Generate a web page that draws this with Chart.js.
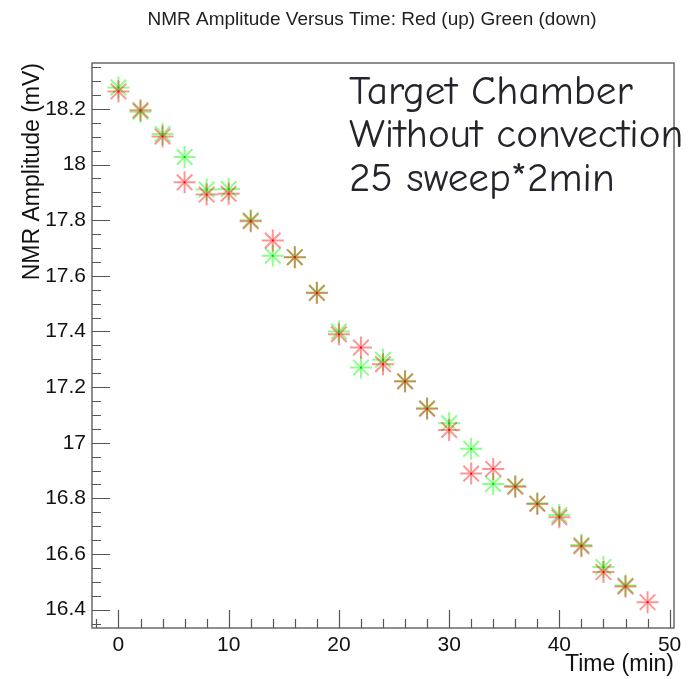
<!DOCTYPE html>
<html>
<head>
<meta charset="utf-8">
<script src="https://cdn.jsdelivr.net/npm/chart.js@4.4.1/dist/chart.umd.min.js"></script>
<style>
html,body{margin:0;padding:0;background:#ffffff;}
#wrap{position:relative;width:693px;height:679px;}
</style>
</head>
<body>
<div id="wrap"><canvas id="c" width="693" height="679"></canvas></div>
<script>
// ---- data ----
const timeRed = [0,2,4,6,8,10,12,14,16,18,20,22,24,26,28,30,32,34,36,38,40,42,44,46,48];
const ampRed = [18.263,18.195,18.101,17.936,17.892,17.895,17.796,17.727,17.667,17.538,17.390,17.342,17.282,17.220,17.122,17.046,16.889,16.906,16.842,16.780,16.732,16.628,16.535,16.483,16.427];
const timeGreen = [0,2,4,6,8,10,12,14,16,18,20,22,24,26,28,30,32,34,36,38,40,42,44,46];
const ampGreen = [18.277,18.190,18.110,18.027,17.910,17.912,17.800,17.672,17.667,17.540,17.400,17.270,17.298,17.222,17.124,17.070,16.978,16.852,16.844,16.782,16.740,16.632,16.553,16.487];
const xTicks = [0,10,20,30,40,50];
const xTickLabels = ['0','10','20','30','40','50'];
const yTicks = [16.4,16.6,16.8,17.0,17.2,17.4,17.6,17.8,18.0,18.2];
const yTickLabels = ['16.4','16.6','16.8','17','17.2','17.4','17.6','17.8','18','18.2'];
const titleText = 'NMR Amplitude Versus Time: Red (up) Green (down)';
const xTitle = 'Time (min)';
const yTitle = 'NMR Amplitude (mV)';
const noteLines = ['Target Chamber','Without convection','25 sweep*2min'];

const toPts = (xs, ys) => xs.map((x, i) => ({x: x, y: ys[i]}));

const FONT = '"Liberation Sans", Arial, Helvetica, sans-serif';

// frame + inner ticks (ROOT style), title, annotation
const rootStyle = {
  id: 'rootStyle',
  afterDraw(chart) {
    const {ctx, chartArea: a, scales: {x, y}} = chart;
    ctx.save();
    ctx.strokeStyle = '#6a6a6a';
    ctx.lineWidth = 1.5;
    ctx.strokeRect(a.left, a.top, a.right - a.left, a.bottom - a.top);
    ctx.lineWidth = 1.2;
    ctx.strokeStyle = '#555';
    ctx.beginPath();
    for (let k = Math.ceil(y.min / 0.05 - 1e-6); k * 0.05 <= y.max + 1e-9; k++) {
      const v = k * 0.05;
      const py = Math.round(y.getPixelForValue(v)) + 0.5;
      const major = Math.abs(v / 0.2 - Math.round(v / 0.2)) < 1e-6;
      ctx.moveTo(a.left, py);
      ctx.lineTo(a.left + (major ? 18 : 9), py);
    }
    for (let k = Math.ceil(x.min / 2 - 1e-6); k * 2 <= x.max + 1e-9; k++) {
      const v = k * 2;
      const px = Math.round(x.getPixelForValue(v)) + 0.5;
      const major = v % 10 === 0;
      ctx.moveTo(px, a.bottom);
      ctx.lineTo(px, a.bottom - (major ? 18 : 9));
    }
    ctx.stroke();

    ctx.fillStyle = '#222';
    ctx.font = '19px ' + FONT;
    ctx.textAlign = 'center';
    ctx.textBaseline = 'alphabetic';
    ctx.fillText(titleText, 372, 25);

    const nf = '"Comic Neue", "Comic Sans MS", "DejaVu Sans", sans-serif';
    ctx.font = '30px ' + nf;
    const w = ctx.measureText(noteLines[1]).width;
    const size = 30 * 334 / w;
    ctx.font = size.toFixed(1) + 'px ' + nf;
    ctx.textAlign = 'left';
    ctx.fillStyle = '#24242c';
    const base = [104, 147, 191];
    noteLines.forEach((t, i) => ctx.fillText(t, 349, base[i]));
    ctx.restore();
  }
};

new Chart(document.getElementById('c'), {
  type: 'scatter',
  data: {
    datasets: [
      {label: 'Red dots', data: toPts(timeRed, ampRed), pointStyle: 'rect', pointRadius: 1.4,
       backgroundColor: '#ee0000', borderColor: '#ee0000', borderWidth: 0, order: 0},
      {label: 'Green dots', data: toPts(timeGreen, ampGreen), pointStyle: 'rect', pointRadius: 1.4,
       backgroundColor: '#00cc00', borderColor: '#00cc00', borderWidth: 0, order: 1},
      {label: 'Red (up)', data: toPts(timeRed, ampRed), pointStyle: 'star', pointRadius: 11,
       borderColor: 'rgba(255,0,0,0.42)', backgroundColor: 'rgba(255,0,0,0.42)', borderWidth: 2, order: 2},
      {label: 'Green (down)', data: toPts(timeGreen, ampGreen), pointStyle: 'star', pointRadius: 11,
       borderColor: 'rgba(0,255,0,0.45)', backgroundColor: 'rgba(0,255,0,0.45)', borderWidth: 2, order: 3}
    ]
  },
  options: {
    responsive: false,
    animation: false,
    events: [],
    layout: {padding: {left: 0, right: 19, top: 63, bottom: 0}},
    plugins: {legend: {display: false}, tooltip: {enabled: false}, title: {display: false}},
    scales: {
      x: {
        type: 'linear', min: -2.4, max: 50.4,
        grid: {display: false, drawTicks: false},
        border: {display: false},
        afterBuildTicks: s => { s.ticks = xTicks.map(v => ({value: v})); },
        afterFit: s => { s.height = 51; },
        ticks: {
          padding: 5, color: '#111', maxRotation: 0, autoSkip: false,
          font: {family: FONT, size: 21},
          callback: (v) => xTickLabels[xTicks.indexOf(v)]
        },
        title: {display: true, text: xTitle, align: 'end', color: '#111',
          font: {family: FONT, size: 23}, padding: {top: 0, bottom: 1}}
      },
      y: {
        type: 'linear', min: 16.334, max: 18.365,
        grid: {display: false, drawTicks: false},
        border: {display: false},
        afterBuildTicks: s => { s.ticks = yTicks.map(v => ({value: v})); },
        afterFit: s => { s.width = 92; },
        ticks: {
          padding: 6, color: '#111', autoSkip: false,
          font: {family: FONT, size: 21},
          callback: (v) => yTickLabels[yTicks.findIndex(t => Math.abs(t - v) < 1e-9)]
        },
        title: {display: true, text: yTitle, align: 'end', color: '#111',
          font: {family: FONT, size: 23}, padding: {top: 19, bottom: 0}}
      }
    }
  },
  plugins: [rootStyle]
});
</script>
</body>
</html>
